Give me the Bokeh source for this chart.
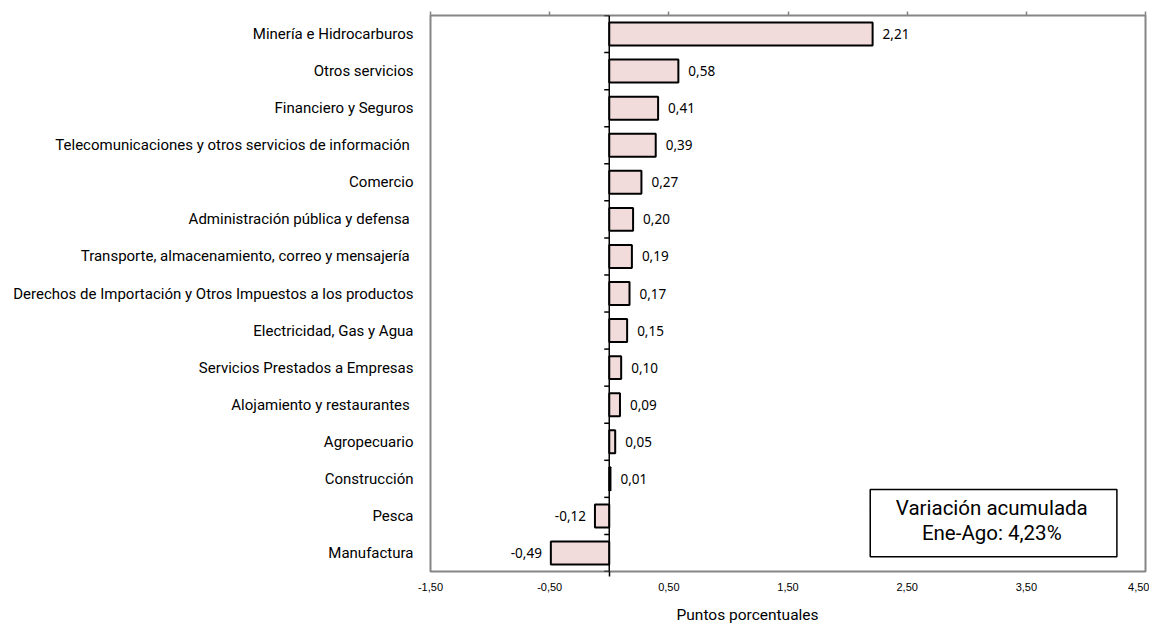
from bokeh.plotting import figure
from bokeh.models import (Range1d, FixedTicker, Span, BoxAnnotation, Label, Title,
                          CustomJSTickFormatter, LinearAxis, ColumnDataSource)
from bokeh.core.properties import value
from bokeh.embed import file_html
from bokeh.resources import INLINE

categories = [
    "Minería e Hidrocarburos",
    "Otros servicios",
    "Financiero y Seguros",
    "Telecomunicaciones y otros servicios de información ",
    "Comercio",
    "Administración pública y defensa ",
    "Transporte, almacenamiento, correo y mensajería ",
    "Derechos de Importación y Otros Impuestos a los productos",
    "Electricidad, Gas y Agua",
    "Servicios Prestados a Empresas",
    "Alojamiento y restaurantes ",
    "Agropecuario",
    "Construcción",
    "Pesca",
    "Manufactura",
]
values = [2.21, 0.58, 0.41, 0.39, 0.27, 0.20, 0.19, 0.17, 0.15, 0.10, 0.09, 0.05, 0.01, -0.12, -0.49]
x_ticks = [-1.5, -0.5, 0.5, 1.5, 2.5, 3.5, 4.5]
x_tick_labels = ["-1,50", "-0,50", "0,50", "1,50", "2,50", "3,50", "4,50"]
box_lines = ["Variación acumulada", "Ene-Ago: 4,23%"]
x_title = "Puntos porcentuales"

LABEL_FONT = "Roboto"

n = len(categories)
pos = [n - 1 - i for i in range(n)]  # top category at top
fmt = lambda v: ("%.2f" % v).replace(".", ",")

src = ColumnDataSource(dict(
    y=pos, v=values, lab=[fmt(v) for v in values],
    align=["left" if v >= 0 else "right" for v in values],
    off=[10 if v >= 0 else -9 for v in values],
))

p = figure(width=1149, height=634, output_backend="svg", toolbar_location=None,
           x_range=Range1d(-1.5, 4.5), y_range=Range1d(-0.5, n - 0.5),
           min_border_left=430, min_border_right=4, min_border_top=15, min_border_bottom=62)
p.grid.visible = False
p.outline_line_color = "#858585"
p.outline_line_width = 2
p.background_fill_color = "white"
p.border_fill_color = "white"

# bottom axis
xa = p.xaxis[0]
xa.ticker = FixedTicker(ticks=x_ticks, minor_ticks=[0])
xa.major_label_overrides = {t: l for t, l in zip(x_ticks, x_tick_labels)}
xa.major_tick_line_color = None
xa.major_tick_out = 0
xa.major_tick_in = 0
xa.minor_tick_out = 5
xa.minor_tick_in = 0
xa.minor_tick_line_color = "black"
xa.minor_tick_line_width = 1.5
xa.axis_line_color = None
xa.major_label_standoff = 6
xa.major_label_text_font = "Liberation Sans"
xa.major_label_text_font_size = "11px"
xa.major_label_text_color = "black"

# left axis (category names)
ya = p.yaxis[0]
ya.ticker = FixedTicker(ticks=pos)
ya.major_label_overrides = {y: c for y, c in zip(pos, categories)}
ya.major_tick_line_color = None
ya.major_tick_out = 0
ya.major_tick_in = 0
ya.minor_tick_line_color = None
ya.minor_tick_out = 0
ya.axis_line_color = None
ya.major_label_standoff = 17
ya.major_label_text_font = LABEL_FONT
ya.major_label_text_font_size = "15px"
ya.major_label_text_color = "black"

# top axis with outward ticks
top = LinearAxis(ticker=FixedTicker(ticks=x_ticks, minor_ticks=[]),
                 formatter=CustomJSTickFormatter(code="return ''"),
                 axis_line_color=None, major_tick_out=4, major_tick_in=0,
                 major_tick_line_color="#858585", major_tick_line_width=1.5,
                 major_label_standoff=0, major_label_text_font_size="1px")
p.add_layout(top, "above")

# bars
p.hbar(y="y", left=0, right="v", height=0.62, source=src,
       fill_color="#F2DCDB", line_color="black", line_width=2)

# zero line and small category ticks
p.add_layout(Span(location=0, dimension="height", line_color="black", line_width=1.5))
bounds = [i - 0.5 for i in range(n + 1)]
p.ray(x=[0] * len(bounds), y=bounds, length=5, length_units="screen",
      angle=3.14159265, line_color="black", line_width=1.5)

# value labels
p.text(x="v", y="y", text="lab", source=src, x_offset="off", text_align="align",
       text_baseline="middle", text_font=value("Noto Sans"), text_font_size="13.5px",
       text_color="black")

# summary box
p.add_layout(BoxAnnotation(left=2.19, right=4.26, bottom=-0.1, top=1.71,
                           fill_color="white", fill_alpha=1, line_color="black",
                           line_alpha=1, line_width=1.5))
for txt, yy in zip(box_lines, [1.22, 0.55]):
    p.add_layout(Label(x=3.21, y=yy, text=txt, text_align="center", text_baseline="middle",
                       text_font=LABEL_FONT, text_font_size="20.5px",
                       text_color="black"))

# axis title
p.add_layout(Title(text=x_title, align="left", offset=246, standoff=21,
                   text_font=LABEL_FONT, text_font_size="15.5px", text_font_style="normal",
                   text_color="black"), "below")

open("out.html", "w").write(file_html(p, INLINE))
